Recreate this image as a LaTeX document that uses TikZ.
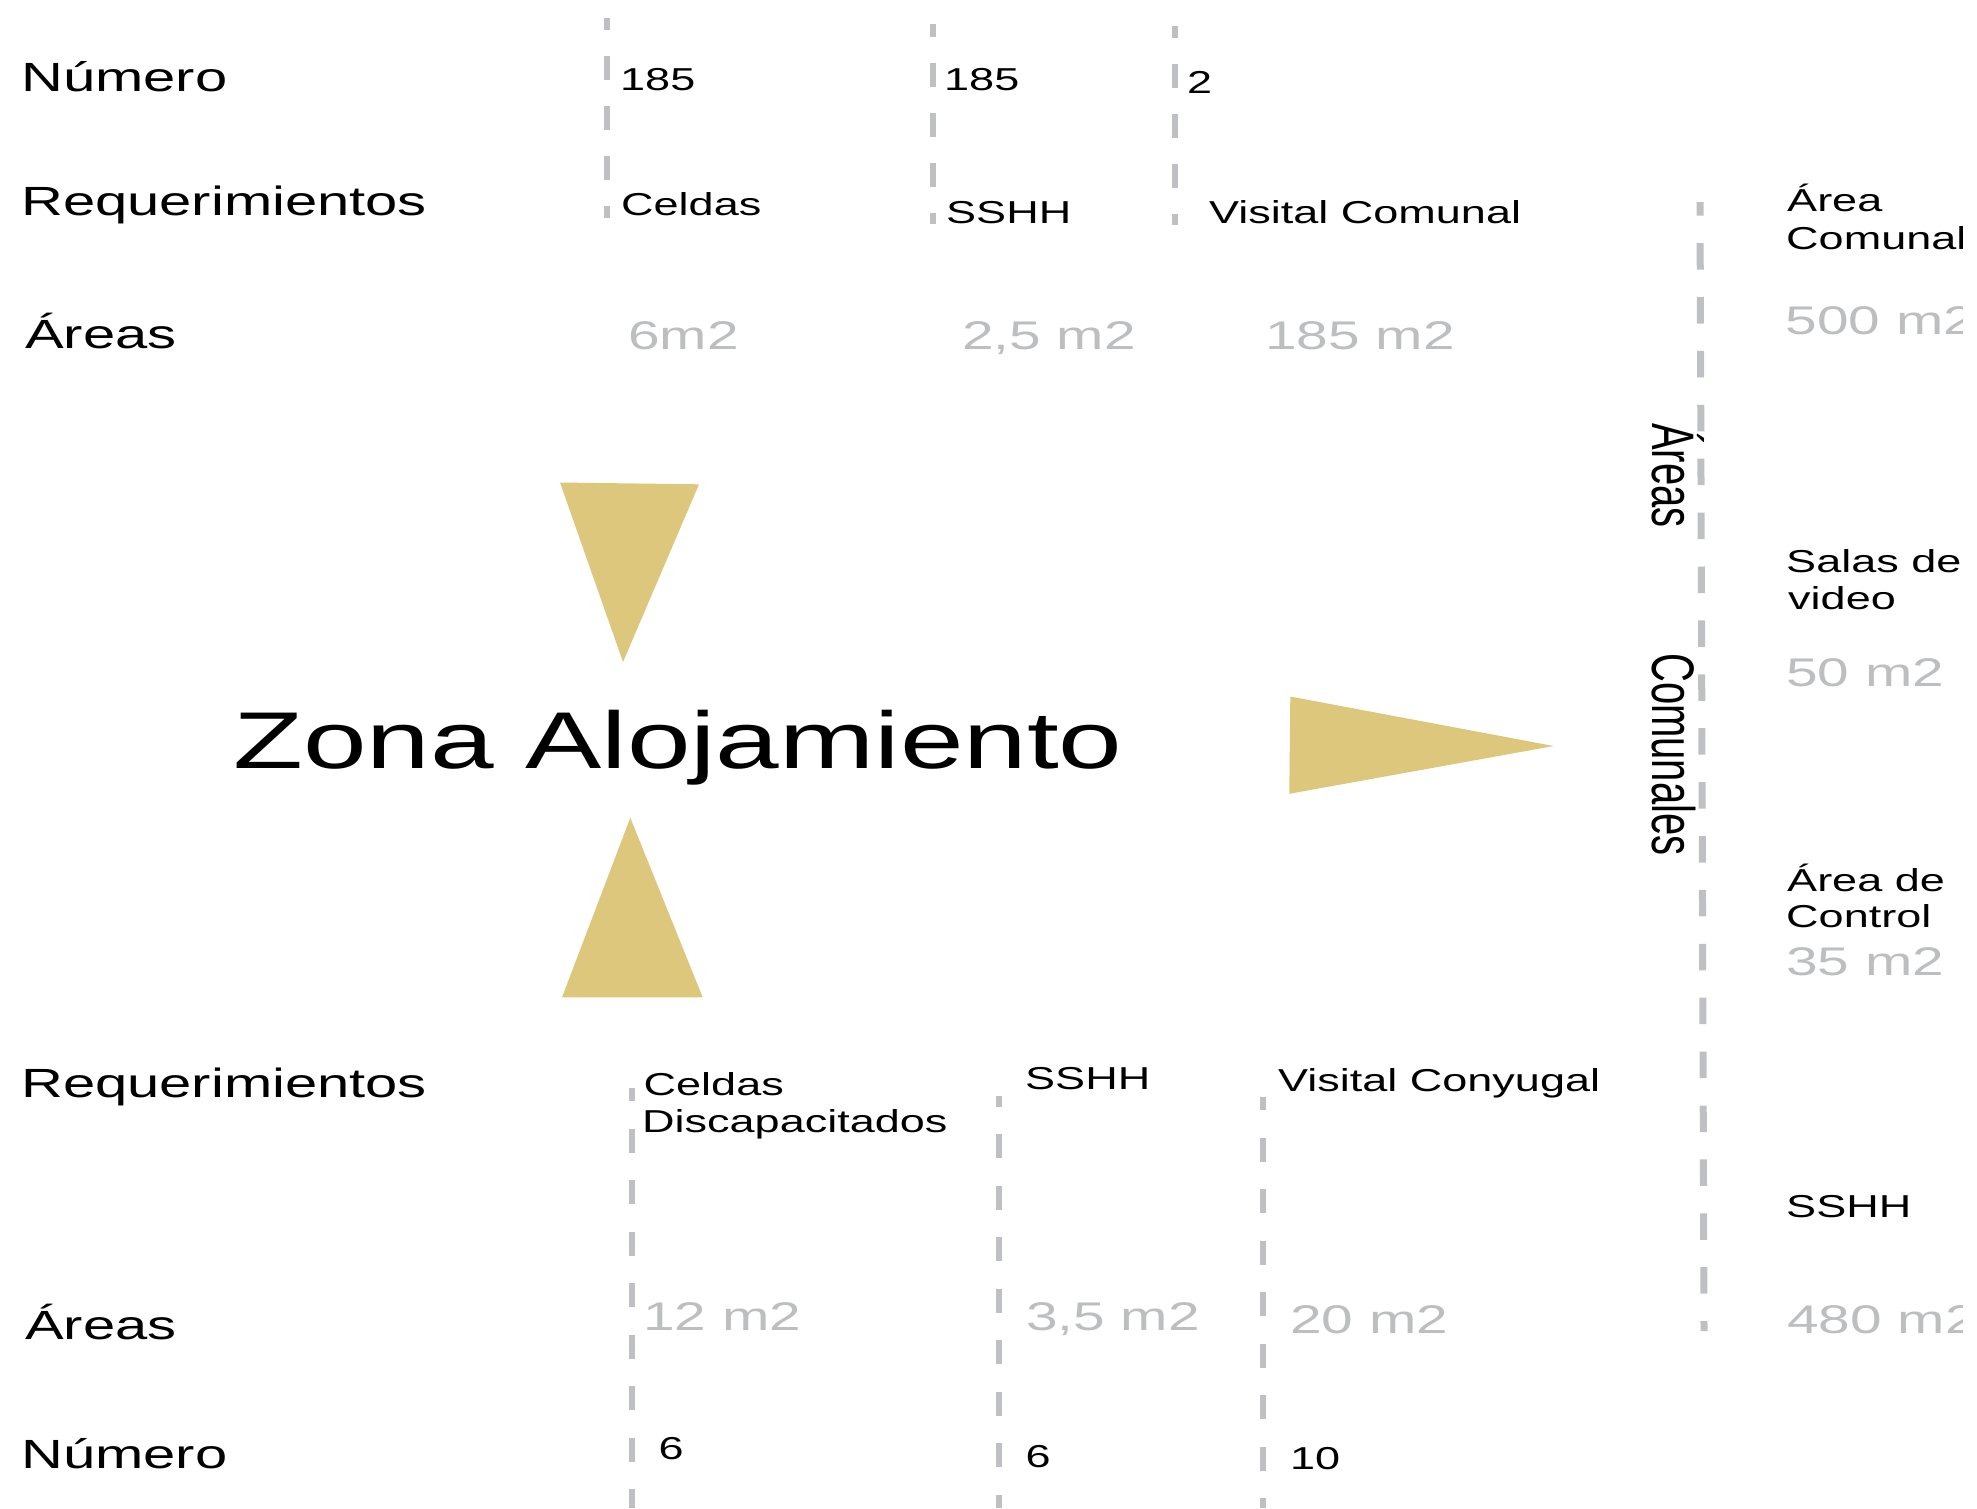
\documentclass[tikz,border=0pt]{standalone}
\usepackage{fontspec}
\setmainfont{Liberation Sans}[FakeStretch=1.42]
\newfontfamily\plainfont{Liberation Sans}
\definecolor{gold}{RGB}{221,199,125}
\definecolor{areagray}{RGB}{188,190,192}
\definecolor{linegray}{RGB}{190,192,195}
\begin{document}
\begin{tikzpicture}[x=1pt,y=-1pt,
  lbl/.style={anchor=base west,inner sep=0pt,font=\fontsize{40.8}{48}\selectfont},
  sm/.style={anchor=base west,inner sep=0pt,font=\fontsize{31.7}{38}\selectfont},
  ar/.style={anchor=base west,inner sep=0pt,font=\fontsize{40}{48}\selectfont,text=areagray},
  ttl/.style={anchor=base west,inner sep=0pt,font=\fontsize{80.5}{96}\selectfont},
  vert/.style={anchor=base west,inner sep=0pt,rotate=-90},
  guide/.style={draw=linegray,line width=5.5pt,dash pattern=on 24pt off 26pt},
  guideb/.style={draw=linegray,line width=5.5pt,dash pattern=on 24pt off 27.5pt},
  guider/.style={draw=linegray,line width=7pt,dash pattern=on 26.5pt off 27.4pt},
  tri/.style={fill=gold}]
\useasboundingbox (0,0) rectangle (1977,1508);
\begin{scope}
\clip (0,0) rectangle (1962,1508);
% top guides
\coordinate (t1a) at (607,18);   \coordinate (t1b) at (607,218);
\coordinate (t2a) at (933,23.7); \coordinate (t2b) at (933,224.2);
\coordinate (t3a) at (1175,25.5);\coordinate (t3b) at (1175,225.3);
\draw[guide,dash phase=12pt] (t1a) -- (t1b);
\draw[guide,dash phase=11pt] (t2a) -- (t2b);
\draw[guide,dash phase=11.7pt] (t3a) -- (t3b);
% bottom guides
\coordinate (b1a) at (632,1088);   \coordinate (b1b) at (632,1508);
\coordinate (b2a) at (999,1095.8); \coordinate (b2b) at (999,1508);
\coordinate (b3a) at (1263,1096.8);\coordinate (b3b) at (1263,1508);
\draw[guideb,dash phase=11pt] (b1a) -- (b1b);
\draw[guideb,dash phase=13pt] (b2a) -- (b2b);
\draw[guideb,dash phase=10.5pt] (b3a) -- (b3b);
% right guide
\coordinate (ra) at (1700,202); \coordinate (rb) at (1704,1331);
\draw[guider,dash phase=12.8pt] (ra) -- (rb);
% triangles
\fill[tri] (560,482.5) -- (699,484.3) -- (623,662) -- cycle;
\fill[tri] (630.3,817.7) -- (702.7,997.3) -- (562,997.3) -- cycle;
\fill[tri] (1290.3,696.5) -- (1553.7,746) -- (1289.3,793.8) -- cycle;
% left labels
\node[lbl] (numT) at (21,91) {Número};
\node[lbl] (reqT) at (21,215) {Requerimientos};
\node[lbl] (areT) at (25,348) {Áreas};
\node[lbl] (reqB) at (21,1097) {Requerimientos};
\node[lbl] (areB) at (25,1339) {Áreas};
\node[lbl] (numB) at (21,1468) {Número};
% title
\node[ttl] (title) at (233,768) {Zona Alojamiento};
% top columns
\node[sm] (n1) at (620,90) {185};
\node[sm] (n2) at (944,90) {185};
\node[sm] (n3) at (1187,93) {2};
\node[sm] (r1) at (621,215) {Celdas};
\node[sm] (r2) at (946,223) {SSHH};
\node[sm] (r3) at (1209,223) {Visital Comunal};
\node[ar] (a1) at (628,349) {6m2};
\node[ar] (a2) at (962,349) {2,5 m2};
\node[ar] (a3) at (1265,349) {185 m2};
% bottom columns
\node[sm] (br1) at (643.5,1095.8) {Celdas};
\node[sm] (br1b) at (642,1132.5) {Discapacitados};
\node[sm] (br2) at (1025,1089) {SSHH};
\node[sm] (br3) at (1278,1091.5) {Visital Conyugal};
\node[ar] (ba1) at (643,1330.4) {12 m2};
\node[ar] (ba2) at (1026,1330.4) {3,5 m2};
\node[ar] (ba3) at (1290,1333) {20 m2};
\node[sm] (bn1) at (658.5,1459) {6};
\node[sm] (bn2) at (1025.5,1467) {6};
\node[sm] (bn3) at (1290,1469) {10};
% vertical label
\node[vert] (vA) at (1652,423) {\scalebox{1}[1.5]{\plainfont\fontsize{40}{47}\selectfont Áreas}};
\node[vert] (vC) at (1652,653) {\scalebox{1}[1.5]{\plainfont\fontsize{40}{47}\selectfont Comunales}};
% right column
\node[sm] (c1) at (1787,211.7) {Área};
\node[sm] (c1b) at (1786,249.3) {Comunal};
\node[ar] (c1a) at (1785.5,334) {500 m2};
\node[sm] (c2) at (1786,572.7) {Salas de};
\node[sm] (c2b) at (1788,609) {video};
\node[ar] (c2a) at (1786,686) {50 m2};
\node[sm] (c3) at (1787,891) {Área de};
\node[sm] (c3b) at (1786,927.7) {Control};
\node[ar] (c3a) at (1786,975.8) {35 m2};
\node[sm] (c4) at (1786,1217.5) {SSHH};
\node[ar] (c4a) at (1787,1333) {480 m2};
\end{scope}
\end{tikzpicture}
\end{document}
